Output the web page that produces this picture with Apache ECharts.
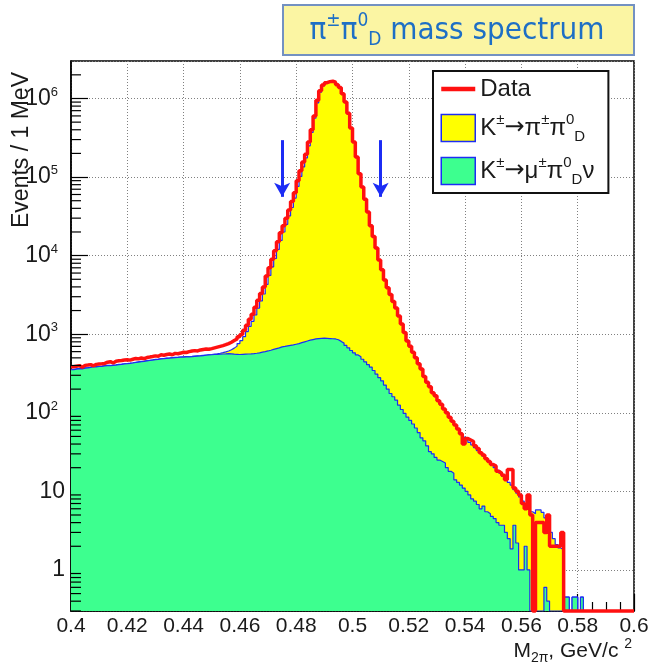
<!DOCTYPE html>
<html>
<head>
<meta charset="utf-8">
<title>π±π0D mass spectrum</title>
<script src="https://cdn.jsdelivr.net/npm/echarts@6/dist/echarts.min.js"></script>
<style>
  html, body { margin: 0; padding: 0; background: #fff; }
  #chart { width: 649px; height: 667px; }
</style>
</head>
<body>
<div id="chart"></div>
<script>
// histogram binning: 1 MeV bins from 0.4 to 0.6 GeV
const BIN_LO = 0.4;
const BIN_W = 0.001;

const X_MIN = 0.4, X_MAX = 0.6, X_STEP = 0.02;
const Y_MIN = 0.3, Y_MAX = 3e6;

// arrows marking the signal window
const ARROW_X = [0.475, 0.51];
const ARROW_FROM = 2.95e5;
const ARROW_TO = 5.6e4;

// events per bin (0 = empty bin)
const dataCounts = [
  385, 392, 398, 380, 401, 405, 410, 396, 413, 418,
  420, 425, 440, 447, 430, 452, 458, 463, 470, 474,
  468, 480, 492, 485, 498, 488, 505, 512, 520, 530,
  525, 548, 540, 552, 560, 548, 570, 565, 575, 590,
  585, 600, 610, 618, 612, 630, 640, 648, 642, 655,
  670, 685, 700, 715, 735, 760, 790, 830, 870, 930,
  990, 1120, 1300, 1550, 1800, 2200, 2700, 3300, 4000, 5500,
  7000, 9000, 11500, 15000, 19500, 24000, 30000, 38000, 49000, 63000,
  90000, 120000, 155000, 195000, 280000, 400000, 600000, 950000, 1250000, 1480000,
  1590000, 1640000, 1660000, 1610000, 1500000, 1380000, 1150000, 900000, 650000, 420000,
  280000, 180000, 110000, 75000, 52000, 36000, 24000, 17500, 12500, 8800,
  6600, 4900, 3900, 3200, 2600, 2150, 1700, 1350, 1050, 820,
  700, 590, 500, 420, 360, 290, 245, 215, 180, 165,
  142, 128, 112, 100, 88, 78, 70, 62, 54, 40,
  47, 45, 43, 38, 35, 31, 29, 26, 24, 22,
  21, 18, 17, 16, 14, 19, 19, 11, 10, 9,
  7, 6, 9, 5, 0, 4, 4, 4, 3, 5,
  2, 2, 2, 2, 3, 0, 0, 0, 0, 0,
  0, 0, 0, 0, 0, 0, 0, 0, 0, 0,
  0, 0, 0, 0, 0, 0, 0, 0, 0, 0
];

// MC sum K->pi pi0D + K->mu pi0D nu (yellow, stacked total)
const mcTotal = [
  356, 363, 368, 365, 373, 375, 381, 388, 386, 391,
  393, 398, 401, 400, 405, 408, 413, 415, 421, 424,
  428, 433, 439, 445, 450, 455, 461, 466, 471, 477,
  481, 487, 491, 495, 498, 503, 506, 509, 513, 515,
  517, 519, 521, 525, 529, 533, 538, 543, 548, 552,
  558, 564, 572, 582, 595, 612, 635, 665, 705, 760,
  830, 930, 1080, 1260, 1460, 1760, 2150, 2650, 3250, 4300,
  5600, 7200, 9200, 12000, 15600, 20000, 25000, 32000, 41000, 54000,
  76000, 102000, 135000, 175000, 250000, 370000, 560000, 880000, 1200000, 1450000,
  1580000, 1640000, 1650000, 1610000, 1500000, 1380000, 1150000, 900000, 650000, 420000,
  280000, 180000, 110000, 75000, 52000, 36000, 24500, 17500, 12500, 8800,
  6500, 4900, 3900, 3150, 2600, 2150, 1700, 1350, 1060, 830,
  690, 585, 495, 420, 355, 295, 250, 212, 182, 160,
  140, 126, 112, 99, 88, 78, 70, 62, 55, 49,
  45, 42, 39, 36, 33, 31, 28, 26, 24, 22,
  20, 18.5, 17, 15.5, 14, 13, 12, 10.5, 9.5, 8.5,
  7.5, 6.6, 6, 5.5, 5.2, 5.8, 5.8, 5.4, 4.6, 3.8,
  3, 2.5, 2.1, 1.9, 1.8, 0.45, 0.45, 0, 0.45, 0.45,
  0, 0.45, 0, 0, 0, 0, 0, 0, 0, 0,
  0, 0, 0, 0, 0, 0, 0, 0, 0, 0
];

// MC K->mu pi0D nu component (green)
const mcKmu3 = [
  353, 360, 365, 362, 370, 372, 378, 385, 383, 388,
  390, 395, 398, 397, 402, 405, 410, 412, 418, 421,
  425, 430, 436, 442, 447, 452, 458, 463, 468, 474,
  478, 484, 488, 492, 495, 500, 503, 506, 510, 512,
  514, 516, 518, 522, 526, 530, 535, 540, 545, 548,
  552, 555, 558, 560, 562, 565, 562, 558, 555, 552,
  555, 558, 560, 562, 565, 572, 580, 590, 600, 612,
  625, 640, 655, 670, 690, 700, 712, 722, 730, 745,
  760, 780, 800, 820, 840, 855, 870, 880, 887, 890,
  885, 880, 875, 870, 850, 810, 770, 720, 670, 620,
  580, 545, 515, 480, 445, 410, 380, 345, 310, 280,
  255, 225, 200, 176, 160, 145, 125, 110, 98, 88,
  80, 72, 64, 56, 48, 44, 38, 32, 30, 27,
  25, 24, 23, 20, 18, 17, 14, 13, 12, 11,
  10, 9, 8, 7.5, 6.8, 6, 6.5, 5.5, 5.2, 4.8,
  4.5, 4, 3.7, 3.7, 3, 2.5, 1.85, 3.7, 2.2, 1,
  1, 2, 1, 0, 0, 0, 0, 0, 0.6, 0.4,
  0, 0, 0, 0, 0, 0.45, 0.45, 0, 0.45, 0.45,
  0, 0.45, 0, 0, 0, 0, 0, 0, 0, 0,
  0, 0, 0, 0, 0, 0, 0, 0, 0, 0
];

const NAME_DATA = 'Data';
const NAME_K2PI = 'K±→π±π0D';
const NAME_KMU3 = 'K±→μ±π0Dν';

const FONT = '"Liberation Sans", Arial, Helvetica, sans-serif';
const ARROW_FONT = '"DejaVu Sans", sans-serif';
const TITLE_FONT = '"DejaVu Sans Condensed", "DejaVu Sans", sans-serif';
const RED = '#ff1010';
const BLUE = '#1c2cf5';
const YELLOW = '#ffff00';
const GREEN = '#3dff8f';
const INK = '#1a1a1a';
const TITLE_BLUE = '#1e6fc5';

// empty bins sit on the bottom of the frame, like ROOT draws them
function toPoints(vals) {
  const show = v => (v > 0 ? v : Y_MIN);
  const pts = vals.map((v, i) => [+(BIN_LO + i * BIN_W).toFixed(4), show(v)]);
  pts.push([+(BIN_LO + vals.length * BIN_W).toFixed(4), show(vals[vals.length - 1])]);
  return pts;
}

// log minor ticks 2..9 x 10^n on the left axis
const minorTickValues = [];
for (let e = -1; e <= 6; e++) {
  for (let k = 2; k <= 9; k++) {
    const v = k * Math.pow(10, e);
    if (v > Y_MIN && v < Y_MAX) minorTickValues.push(v);
  }
}

const legendText = {};
legendText[NAME_DATA] = '{n|Data}';
legendText[NAME_K2PI] = '{n|K}{u|±}{r|→}{n|π}{u|±}{n|π}{u|0}{d|D}';
legendText[NAME_KMU3] = '{n|K}{u|±}{r|→}{n|μ}{u|±}{n|π}{u|0}{d|D}{n|ν}';

const chart = echarts.init(document.getElementById('chart'));

const option = {
  animation: false,
  backgroundColor: '#fff',
  textStyle: { fontFamily: FONT },
  grid: {
    left: 71,
    right: 15,
    top: 61,
    bottom: 56,
    show: true,
    borderColor: '#000',
    borderWidth: 1.5,
    backgroundColor: 'transparent',
    outerBoundsMode: 'none'
  },
  legend: {
    orient: 'vertical',
    left: 433,
    top: 71,
    padding: [6, 14, 6, 6],
    itemWidth: 34,
    itemHeight: 27,
    itemGap: 11,
    backgroundColor: '#fff',
    borderColor: '#111',
    borderWidth: 2,
    borderRadius: 0,
    selectedMode: false,
    data: [
      { name: NAME_DATA, itemStyle: { opacity: 0 }, lineStyle: { color: RED, width: 4.5 } },
      { name: NAME_K2PI, icon: 'rect', itemStyle: { color: YELLOW, borderColor: BLUE, borderWidth: 1.5 } },
      { name: NAME_KMU3, icon: 'rect', itemStyle: { color: GREEN, borderColor: BLUE, borderWidth: 1.5 } }
    ],
    formatter: name => legendText[name],
    textStyle: {
      color: INK,
      rich: {
        n: { fontSize: 24, fontFamily: FONT, color: INK, lineHeight: 32 },
        r: { fontSize: 24, fontFamily: ARROW_FONT, color: INK, lineHeight: 32 },
        u: { fontSize: 15, fontFamily: FONT, color: INK, lineHeight: 17, verticalAlign: 'top' },
        d: { fontSize: 15, fontFamily: FONT, color: INK, lineHeight: 17, verticalAlign: 'bottom' }
      }
    }
  },
  xAxis: {
    type: 'value',
    min: X_MIN,
    max: X_MAX,
    interval: X_STEP,
    axisLine: { show: true, lineStyle: { color: '#000', width: 1.5 } },
    axisTick: { show: true, inside: true, length: 17, lineStyle: { color: '#000', width: 1.2 } },
    minorTick: { show: true, splitNumber: 4, length: 9, lineStyle: { color: '#000', width: 1.2 } },
    axisLabel: {
      color: INK,
      fontSize: 21,
      fontFamily: FONT,
      margin: 5,
      formatter: v => String(parseFloat(v.toFixed(2)))
    },
    splitLine: { show: true, lineStyle: { color: '#808080', width: 1, type: [1, 2] } }
  },
  yAxis: {
    type: 'log',
    logBase: 10,
    min: Y_MIN,
    max: Y_MAX,
    splitNumber: 7,
    axisLine: { show: true, lineStyle: { color: '#000', width: 1.5 } },
    axisTick: { show: true, inside: true, length: 17, lineStyle: { color: '#000', width: 1.2 } },
    minorTick: { show: false },
    axisLabel: {
      showMinLabel: false,
      showMaxLabel: false,
      margin: 6,
      formatter: function (v) {
        const lg = Math.log10(v);
        const n = Math.round(lg);
        if (Math.abs(lg - n) > 1e-6) return '';
        if (n === 0) return '{m|1}';
        if (n === 1) return '{m|10}';
        return '{m|10}{s|' + n + '}';
      },
      rich: {
        m: { fontSize: 23, fontFamily: FONT, color: INK, lineHeight: 26 },
        s: { fontSize: 13, fontFamily: FONT, color: INK, lineHeight: 17, verticalAlign: 'top', padding: [0, 7, 0, 0] }
      }
    },
    splitLine: { show: true, lineStyle: { color: '#808080', width: 1, type: [1, 2] } }
  },
  series: [
    {
      name: NAME_K2PI,
      type: 'line',
      step: 'end',
      symbol: 'none',
      data: toPoints(mcTotal),
      itemStyle: { color: YELLOW },
      lineStyle: { color: BLUE, width: 1.2 },
      areaStyle: { color: YELLOW, opacity: 1, origin: 'start' },
      z: 2
    },
    {
      name: NAME_KMU3,
      type: 'line',
      step: 'end',
      symbol: 'none',
      data: toPoints(mcKmu3),
      itemStyle: { color: GREEN },
      lineStyle: { color: BLUE, width: 1.2 },
      areaStyle: { color: GREEN, opacity: 1, origin: 'start' },
      z: 3
    },
    {
      name: NAME_DATA,
      type: 'line',
      step: 'end',
      symbol: 'none',
      clip: false,
      data: toPoints(dataCounts),
      itemStyle: { color: RED },
      lineStyle: { color: RED, width: 3.5 },
      z: 4,
      markLine: {
        silent: true,
        symbol: ['none', 'arrow'],
        symbolSize: [12, 14],
        label: { show: false },
        lineStyle: { color: BLUE, width: 3, type: 'solid' },
        data: ARROW_X.map(x => [{ coord: [x, ARROW_FROM] }, { coord: [x, ARROW_TO] }])
      }
    },
    {
      // minor ticks of the log axis
      type: 'custom',
      silent: true,
      clip: false,
      z: 5,
      data: minorTickValues.map(v => [X_MIN, v]),
      encode: { x: 0, y: 1 },
      renderItem: function (params, api) {
        const p = api.coord([X_MIN, api.value(1)]);
        return {
          type: 'line',
          shape: { x1: p[0], y1: p[1], x2: p[0] + 10, y2: p[1] },
          style: { stroke: '#000', lineWidth: 1.2 }
        };
      }
    }
  ],
  graphic: [
    {
      type: 'rect',
      shape: { x: 283, y: 5, width: 351, height: 50 },
      style: { fill: '#fbf5a3', stroke: '#7391c2', lineWidth: 2 },
      z: 10
    },
    {
      type: 'text',
      x: 457,
      y: 31,
      z: 11,
      style: {
        text: '{t|π}{u|±}{t|π}{u|0}{d|D}{t| mass spectrum}',
        align: 'center',
        verticalAlign: 'middle',
        rich: {
          t: { fontSize: 31, fontFamily: TITLE_FONT, fill: TITLE_BLUE, lineHeight: 38 },
          u: { fontSize: 19, fontFamily: TITLE_FONT, fill: TITLE_BLUE, lineHeight: 22, verticalAlign: 'top' },
          d: { fontSize: 19, fontFamily: TITLE_FONT, fill: TITLE_BLUE, lineHeight: 22, verticalAlign: 'bottom' }
        }
      }
    },
    {
      type: 'text',
      x: 22,
      y: 150,
      rotation: Math.PI / 2,
      style: {
        text: 'Events / 1 MeV',
        fontSize: 23,
        fontFamily: FONT,
        fill: INK,
        align: 'center',
        verticalAlign: 'middle'
      }
    },
    {
      type: 'text',
      x: 632,
      y: 651,
      style: {
        text: '{a|M}{b|2π}{a|, GeV/c }{c|2}',
        align: 'right',
        verticalAlign: 'middle',
        rich: {
          a: { fontSize: 21, fontFamily: FONT, fill: INK, lineHeight: 28 },
          b: { fontSize: 14, fontFamily: FONT, fill: INK, lineHeight: 16, verticalAlign: 'bottom' },
          c: { fontSize: 14, fontFamily: FONT, fill: INK, lineHeight: 16, verticalAlign: 'top' }
        }
      }
    }
  ]
};

chart.setOption(option);
</script>
</body>
</html>
